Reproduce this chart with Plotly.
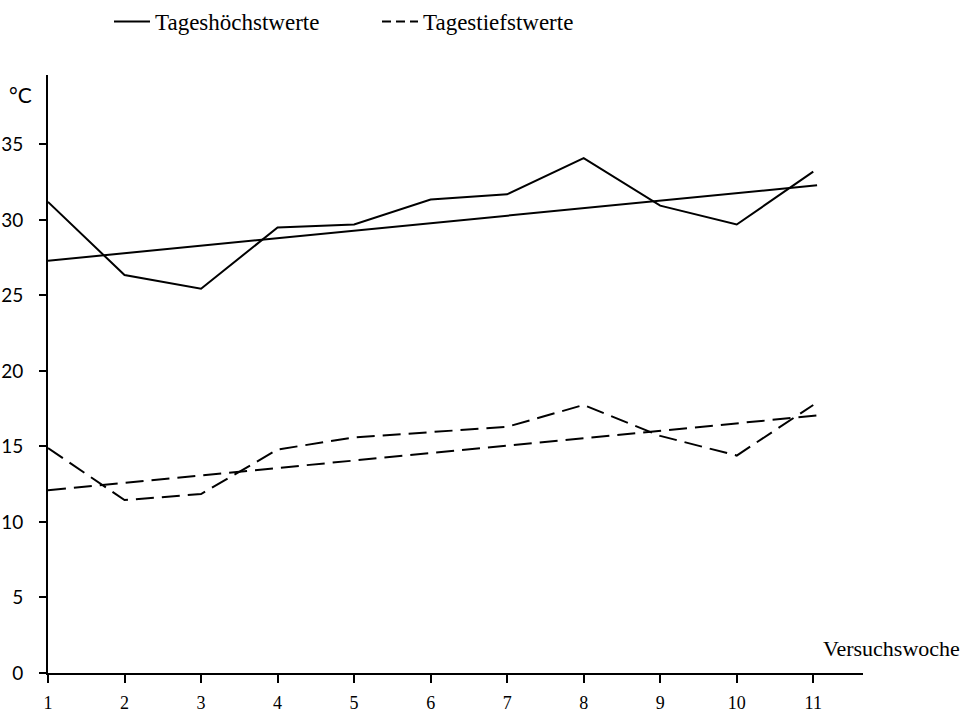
import plotly.graph_objects as go

weeks = [1, 2, 3, 4, 5, 6, 7, 8, 9, 10, 11]
high = [31.2, 26.35, 25.45, 29.5, 29.7, 31.35, 31.7, 34.1, 30.95, 29.7, 33.2]
low = [14.9, 11.45, 11.85, 14.8, 15.6, 15.95, 16.3, 17.75, 15.7, 14.4, 17.75]
trend_x = [1, 11.05]
trend_high = [27.3, 32.3]
trend_low = [12.1, 17.05]

ytick_vals = [0, 5, 10, 15, 20, 25, 30, 35]

W, H = 967, 716
ML, MR, MT, MB = 48, 104, 75, 43
pw = W - ML - MR
ph = H - MT - MB


def px(xp):
    return (xp - ML) / pw


def py(yp):
    return (H - MB - yp) / ph


fig = go.Figure()
line_solid = dict(color="black", width=2)
line_dash = dict(color="black", width=2, dash="18px,8px")

fig.add_trace(go.Scatter(x=weeks, y=high, mode="lines", line=line_solid, showlegend=False))
fig.add_trace(go.Scatter(x=weeks, y=low, mode="lines", line=line_dash, showlegend=False))
fig.add_trace(go.Scatter(x=trend_x, y=trend_high, mode="lines", line=line_solid, showlegend=False))
fig.add_trace(go.Scatter(x=trend_x, y=trend_low, mode="lines", line=line_dash, showlegend=False))
# legend-only entries
fig.add_trace(go.Scatter(x=[None], y=[None], mode="lines", line=dict(color="black", width=2),
                         name="Tageshöchstwerte", legend="legend"))
fig.add_trace(go.Scatter(x=[None], y=[None], mode="lines",
                         line=dict(color="black", width=2, dash="9px,5px"),
                         name="Tagestiefstwerte", legend="legend2"))

legend_font = dict(family="Liberation Serif", size=23, color="black")
fig.update_layout(
    width=W, height=H,
    margin=dict(l=ML, r=MR, t=MT, b=MB, autoexpand=False),
    plot_bgcolor="white", paper_bgcolor="white",
    showlegend=True,
    legend=dict(x=px(109), xref="paper", y=1.0, yref="container", yanchor="top",
                xanchor="left", font=legend_font, itemwidth=36, bgcolor="rgba(0,0,0,0)"),
    legend2=dict(x=px(377), xref="paper", y=1.0, yref="container", yanchor="top",
                 xanchor="left", font=legend_font, itemwidth=36, bgcolor="rgba(0,0,0,0)"),
    xaxis=dict(range=[1, 11.65], tickvals=weeks, showgrid=False, zeroline=False,
               showline=True, linecolor="black", linewidth=2,
               ticks="outside", ticklen=8, tickwidth=2, tickcolor="black",
               ticklabelstandoff=4,
               tickfont=dict(family="Liberation Serif", size=18, color="black")),
    yaxis=dict(range=[0, 39.6], tickvals=ytick_vals, showgrid=False,
               zeroline=False, showline=True, linecolor="black", linewidth=2,
               ticks="outside", ticklen=7, tickwidth=2, tickcolor="black",
               ticklabelstandoff=12,
               tickfont=dict(family="Lato", size=19, color="black")),
    annotations=[
        dict(text="°C", x=px(7), y=py(95), xref="paper", yref="paper", showarrow=False,
             font=dict(family="Lato", size=21, color="black"), xanchor="left", yanchor="middle"),
        dict(text="Versuchswoche", x=px(821), y=py(648), xref="paper", yref="paper", showarrow=False,
             font=dict(family="Liberation Serif", size=22, color="black"), xanchor="left", yanchor="middle"),
    ],
)

fig.write_html("out.html")
